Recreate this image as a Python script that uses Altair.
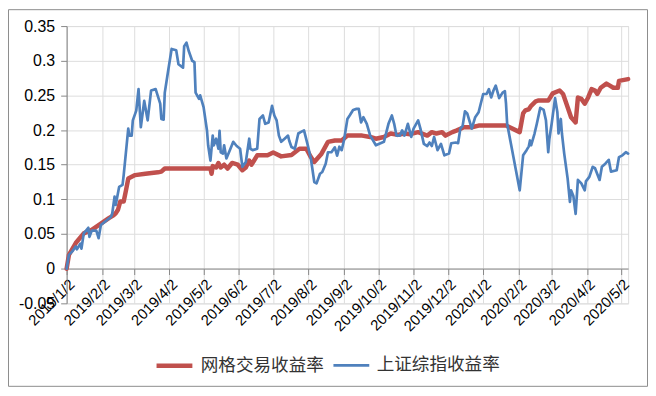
import altair as alt
import pandas as pd

SERIES = ["网格交易收益率", "上证综指收益率"]
COLORS = ["#C0504D", "#4F81BD"]
WIDTHS = [4.5, 2.7]

red_dates = ["2019-01-02","2019-01-04","2019-01-10","2019-01-17","2019-01-24","2019-02-01","2019-02-08","2019-02-12","2019-02-14","2019-02-16","2019-02-18","2019-02-21","2019-02-23","2019-02-25","2019-03-03","2019-03-12","2019-03-23","2019-03-26","2019-03-29","2019-05-08","2019-05-09","2019-05-10","2019-05-13","2019-05-15","2019-05-17","2019-05-20","2019-05-23","2019-05-27","2019-06-01","2019-06-05","2019-06-08","2019-06-11","2019-06-13","2019-06-18","2019-06-27","2019-07-02","2019-07-09","2019-07-18","2019-07-25","2019-07-31","2019-08-04","2019-08-07","2019-08-13","2019-08-19","2019-08-25","2019-08-31","2019-09-05","2019-09-18","2019-09-25","2019-09-30","2019-10-07","2019-10-13","2019-10-19","2019-10-25","2019-10-30","2019-11-06","2019-11-14","2019-11-18","2019-11-22","2019-11-27","2019-11-30","2019-12-06","2019-12-10","2019-12-16","2019-12-23","2019-12-29","2020-01-22","2020-02-03","2020-02-06","2020-02-08","2020-02-11","2020-02-13","2020-02-17","2020-02-19","2020-02-28","2020-03-03","2020-03-09","2020-03-12","2020-03-16","2020-03-19","2020-03-23","2020-03-25","2020-03-28","2020-03-31","2020-04-03","2020-04-06","2020-04-09","2020-04-11","2020-04-14","2020-04-19","2020-04-22","2020-04-25","2020-04-29","2020-04-30","2020-05-08"]
red_vals = [0.0,0.020,0.037,0.051,0.056,0.065,0.073,0.077,0.080,0.085,0.097,0.097,0.113,0.130,0.135,0.137,0.139,0.140,0.1445,0.1445,0.137,0.148,0.146,0.1525,0.146,0.150,0.1445,0.1525,0.150,0.142,0.146,0.156,0.150,0.1635,0.1635,0.1675,0.162,0.164,0.173,0.173,0.161,0.154,0.165,0.183,0.185,0.185,0.192,0.192,0.190,0.1875,0.190,0.195,0.193,0.195,0.194,0.197,0.192,0.197,0.195,0.197,0.192,0.197,0.1995,0.204,0.204,0.2065,0.2065,0.197,0.224,0.2285,0.230,0.235,0.2415,0.2425,0.2425,0.253,0.257,0.252,0.233,0.2185,0.211,0.247,0.245,0.238,0.247,0.259,0.257,0.252,0.261,0.267,0.264,0.261,0.261,0.271,0.2735]

blue_dates = ["2019-01-02","2019-01-04","2019-01-07","2019-01-10","2019-01-11","2019-01-14","2019-01-15","2019-01-17","2019-01-21","2019-01-22","2019-01-24","2019-01-28","2019-01-30","2019-02-01","2019-02-10","2019-02-11","2019-02-13","2019-02-14","2019-02-17","2019-02-20","2019-02-21","2019-02-25","2019-02-26","2019-02-28","2019-03-01","2019-03-04","2019-03-06","2019-03-08","2019-03-11","2019-03-14","2019-03-17","2019-03-21","2019-03-25","2019-03-26","2019-03-28","2019-03-29","2019-04-01","2019-04-04","2019-04-08","2019-04-10","2019-04-14","2019-04-15","2019-04-17","2019-04-19","2019-04-22","2019-04-24","2019-04-25","2019-04-28","2019-04-29","2019-05-02","2019-05-05","2019-05-06","2019-05-08","2019-05-10","2019-05-11","2019-05-13","2019-05-15","2019-05-16","2019-05-17","2019-05-19","2019-05-20","2019-05-22","2019-05-25","2019-05-28","2019-05-31","2019-06-03","2019-06-05","2019-06-08","2019-06-11","2019-06-12","2019-06-14","2019-06-18","2019-06-20","2019-06-23","2019-06-25","2019-06-28","2019-07-01","2019-07-03","2019-07-05","2019-07-07","2019-07-09","2019-07-12","2019-07-15","2019-07-16","2019-07-18","2019-07-21","2019-07-24","2019-07-26","2019-07-29","2019-08-01","2019-08-04","2019-08-07","2019-08-09","2019-08-12","2019-08-14","2019-08-17","2019-08-19","2019-08-22","2019-08-25","2019-08-27","2019-08-29","2019-08-31","2019-09-02","2019-09-03","2019-09-05","2019-09-07","2019-09-10","2019-09-13","2019-09-15","2019-09-17","2019-09-19","2019-09-22","2019-09-25","2019-09-30","2019-10-07","2019-10-11","2019-10-14","2019-10-16","2019-10-18","2019-10-21","2019-10-23","2019-10-25","2019-10-28","2019-10-31","2019-11-02","2019-11-06","2019-11-08","2019-11-11","2019-11-14","2019-11-16","2019-11-18","2019-11-20","2019-11-23","2019-11-26","2019-11-29","2019-12-03","2019-12-05","2019-12-09","2019-12-11","2019-12-13","2019-12-15","2019-12-17","2019-12-19","2019-12-23","2019-12-26","2019-12-29","2020-01-02","2020-01-05","2020-01-07","2020-01-09","2020-01-11","2020-01-13","2020-01-16","2020-01-19","2020-01-21","2020-01-22","2020-01-23","2020-02-03","2020-02-06","2020-02-09","2020-02-11","2020-02-12","2020-02-13","2020-02-16","2020-02-18","2020-02-21","2020-02-24","2020-02-26","2020-02-28","2020-02-29","2020-03-02","2020-03-05","2020-03-07","2020-03-08","2020-03-10","2020-03-11","2020-03-13","2020-03-16","2020-03-18","2020-03-19","2020-03-21","2020-03-23","2020-03-25","2020-03-28","2020-03-31","2020-04-01","2020-04-04","2020-04-07","2020-04-09","2020-04-13","2020-04-15","2020-04-18","2020-04-21","2020-04-23","2020-04-28","2020-04-30","2020-05-03","2020-05-06","2020-05-08"]
blue_vals = [0.0,0.020,0.025,0.032,0.028,0.036,0.029,0.051,0.059,0.046,0.055,0.055,0.044,0.063,0.075,0.080,0.104,0.092,0.118,0.121,0.135,0.202,0.192,0.192,0.214,0.228,0.259,0.204,0.242,0.214,0.257,0.259,0.238,0.216,0.215,0.254,0.286,0.317,0.315,0.295,0.290,0.321,0.326,0.314,0.300,0.298,0.254,0.245,0.250,0.233,0.199,0.178,0.156,0.192,0.178,0.1875,0.173,0.199,0.168,0.166,0.178,0.159,0.171,0.183,0.177,0.173,0.147,0.154,0.1875,0.173,0.171,0.173,0.216,0.221,0.209,0.211,0.235,0.221,0.214,0.192,0.183,0.1875,0.192,0.185,0.1755,0.173,0.195,0.197,0.1995,0.180,0.159,0.125,0.123,0.137,0.1395,0.1515,0.168,0.168,0.175,0.163,0.176,0.171,0.185,0.195,0.216,0.221,0.229,0.2305,0.2305,0.211,0.2185,0.209,0.192,0.178,0.183,0.209,0.221,0.209,0.192,0.192,0.1995,0.192,0.209,0.190,0.202,0.214,0.202,0.180,0.177,0.182,0.177,0.190,0.171,0.180,0.1635,0.166,0.181,0.182,0.181,0.202,0.206,0.227,0.224,0.202,0.2185,0.2257,0.252,0.252,0.259,0.247,0.257,0.264,0.246,0.254,0.256,0.238,0.209,0.113,0.1635,0.171,0.1765,0.185,0.178,0.195,0.209,0.232,0.229,0.214,0.168,0.1875,0.209,0.246,0.2257,0.195,0.216,0.195,0.166,0.130,0.0965,0.113,0.105,0.079,0.128,0.123,0.113,0.126,0.1325,0.147,0.145,0.128,0.147,0.1515,0.157,0.140,0.142,0.161,0.1635,0.168,0.166]

x_tick_labels = ["2019/1/2","2019/2/2","2019/3/2","2019/4/2","2019/5/2","2019/6/2","2019/7/2","2019/8/2","2019/9/2","2019/10/2","2019/11/2","2019/12/2","2020/1/2","2020/2/2","2020/3/2","2020/4/2","2020/5/2"]
y_ticks = [-0.05, 0.0, 0.05, 0.1, 0.15, 0.2, 0.25, 0.3, 0.35]
x_start = (2019, 1, 2)
x_end = (2020, 5, 8)

df = pd.concat([
    pd.DataFrame({"date": red_dates, "value": red_vals, "series": SERIES[0]}),
    pd.DataFrame({"date": blue_dates, "value": blue_vals, "series": SERIES[1]}),
], ignore_index=True)

def dt(y, m, d):
    return alt.DateTime(year=y, month=m, date=d, utc=True)

x_tick_values = [dt(*[int(p) for p in s.split("/")]) for s in x_tick_labels]

W, H = 565, 279
PAD_L, PAD_T = 59, 17
TOTAL_W, TOTAL_H = 644, 380

legend = alt.Legend(title=None, orient="none", legendX=88, legendY=321,
                    direction="horizontal", symbolType="stroke",
                    symbolSize=1300, labelFontSize=17.7,
                    labelFont="Noto Sans CJK SC", labelColor="#333333",
                    labelOffset=6, columnPadding=4, padding=0,
                    labelLimit=300)

enc = dict(
    x=alt.X("date:T",
            scale=alt.Scale(type="utc", domain=[dt(*x_start), dt(*x_end)]),
            axis=alt.Axis(values=x_tick_values,
                          labelExpr="utcyear(datum.value)+'/'+(utcmonth(datum.value)+1)+'/'+utcdate(datum.value)",
                          labelAngle=-45, offset=-35, labelFontSize=15,
                          labelPadding=2, tickSize=6, labelOverlap=False,
                          labelBound=False, labelFlush=False),
            title=None),
    y=alt.Y("value:Q",
            scale=alt.Scale(domain=[-0.05, 0.35], nice=False, zero=False),
            axis=alt.Axis(values=y_ticks,
                          labelExpr="round(datum.value*100)/100 + ''",
                          labelFontSize=16, tickSize=6, labelPadding=6),
            title=None),
    color=alt.Color("series:N", scale=alt.Scale(domain=SERIES, range=COLORS), legend=legend),
    strokeWidth=alt.StrokeWidth("series:N", scale=alt.Scale(domain=SERIES, range=WIDTHS), legend=legend),
)

base = alt.Chart(df).mark_line(strokeJoin="round", strokeCap="round")
red_line = base.transform_filter(alt.datum.series == SERIES[0]).encode(**enc)
blue_line = base.transform_filter(alt.datum.series == SERIES[1]).encode(**enc)

border = alt.Chart(pd.DataFrame({"b": [0]})).mark_rect(
    fill="transparent", stroke="#8C8C8C", strokeWidth=1
).encode(
    x=alt.value(-PAD_L + 0.5), x2=alt.value(TOTAL_W - PAD_L - 0.5),
    y=alt.value(-PAD_T + 0.5), y2=alt.value(TOTAL_H - PAD_T - 0.5),
)

chart = alt.layer(border, red_line, blue_line).properties(
    width=W, height=H,
    autosize=alt.AutoSizeParams(type="none"),
    padding={"left": PAD_L, "top": PAD_T, "right": TOTAL_W - PAD_L - W, "bottom": TOTAL_H - PAD_T - H},
).configure_view(stroke=None).configure_axis(
    grid=False, domainColor="#868686", tickColor="#868686",
    labelColor="#000000", labelFont="Liberation Sans",
).configure(background="white")

chart.save("out.html", embed_options={"renderer": "svg", "actions": False})
